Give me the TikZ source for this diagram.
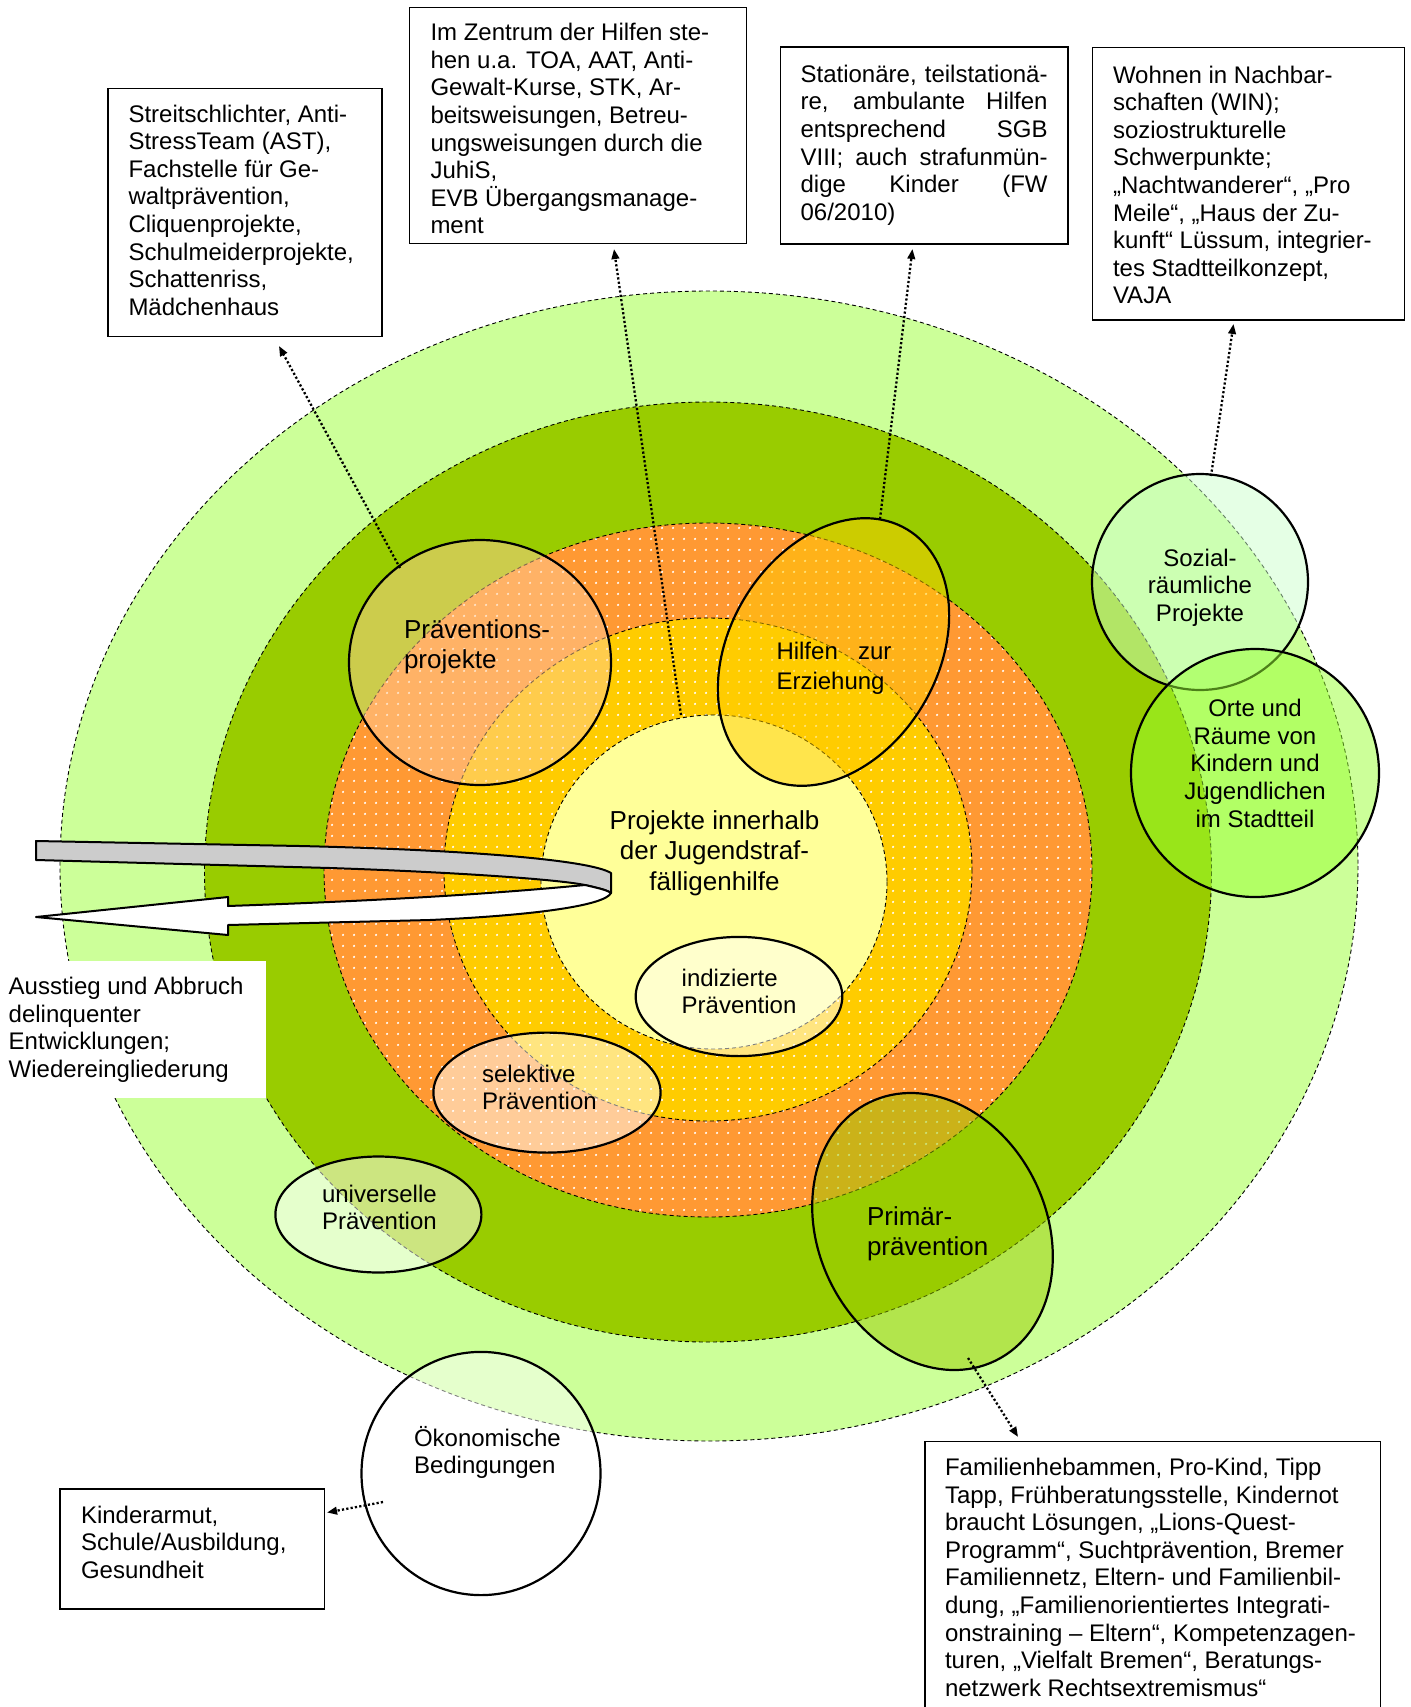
\documentclass[tikz,border=0pt]{standalone}
\usepackage{fontspec}
\setmainfont{Liberation Sans}
\usetikzlibrary{arrows.meta,patterns}
\definecolor{lgreen}{HTML}{CCFF99}
\definecolor{dgreen}{HTML}{99CC00}
\definecolor{orng}{HTML}{FF9933}
\definecolor{yell}{HTML}{FFCC00}
\definecolor{lyell}{HTML}{FFFF99}
\definecolor{tanfill}{HTML}{FFCC99}
\definecolor{mint}{HTML}{CCFFCC}
\definecolor{limefill}{HTML}{99FF33}
\definecolor{bandgray}{HTML}{CCCCCC}
\pgfdeclarepatternformonly{wdots}{\pgfqpoint{0pt}{0pt}}{\pgfqpoint{2pt}{2pt}}{\pgfqpoint{5.5pt}{5.5pt}}{%
  \pgfpathcircle{\pgfqpoint{1pt}{1pt}}{0.62pt}\pgfusepath{fill}}
\newcommand{\fstr}{\rule{0pt}{11pt}}
\newcommand{\bstr}{\rule{0pt}{12pt}}
\begin{document}
\begin{tikzpicture}[x=0.5pt,y=-0.5pt,
  ring/.style={draw=black, line width=0.45pt, dash pattern=on 2pt off 1.5pt},
  dotted ring/.style={preaction={fill=#1}, preaction={pattern=wdots, pattern color=white}, ring},
  ov/.style={draw=black, line width=1.1pt, fill opacity=0.5},
  band/.style={draw=black, line width=1pt, line join=round},
  box/.style={draw=black, line width=0.9pt, fill=white, inner sep=0pt, outer sep=0pt},
  lbl/.style={inner sep=0pt, outer sep=0pt, anchor=north west, align=left, font=\fontsize{12}{13.8}\selectfont},
  big/.style={font=\fontsize{13}{15.3}\selectfont},
  link/.style={line width=1.15pt, dash pattern=on 1.1pt off 1.1pt, -{Triangle[length=5pt,width=3.8pt]}}]
\useasboundingbox (0,0) rectangle (1410,1707);
\clip (0,0) rectangle (1410,1707);
% rings
\path[ring, fill=lgreen] (709,866) ellipse [x radius=649, y radius=575];
\path[ring, fill=dgreen] (708,872) ellipse [x radius=503.5, y radius=470];
\path[dotted ring=orng] (708,870) ellipse [x radius=384, y radius=347];
\path[dotted ring=yell] (708,869.5) ellipse [x radius=264, y radius=251.5];
\path[ring, fill=lyell] (714,882) ellipse [x radius=173, y radius=167];
% white patch behind the left text
\fill[white] (0,961) rectangle (266,1097.5);
% overlay ellipses
\path[ov, fill=tanfill] (480,662.5) ellipse [x radius=131, y radius=122.5];
\path[ov, fill=yell, rotate around={59:(833.5,652)}] (833.5,652) ellipse [x radius=143, y radius=104];
\path[ov, fill=mint] (1200,582) circle [radius=108];
\path[ov, fill=limefill] (1255,773) circle [radius=124];
\path[ov, fill=dgreen, rotate around={116:(932.5,1231.5)}] (932.5,1231.5) ellipse [x radius=143.7, y radius=114];
\path[ov, fill=white] (739,996.5) ellipse [x radius=103.3, y radius=59.6];
\path[ov, fill=white] (547,1092.6) ellipse [x radius=113.6, y radius=60];
\path[ov, fill=white] (378.4,1214.5) ellipse [x radius=103, y radius=58];
\path[ov, fill=white] (481,1473.5) ellipse [x radius=119.5, y radius=121.6];
% turning band arrow
\path[band, fill=bandgray] (36,841) -- (36,860) -- (330,868) .. controls (450,872) and (555,879) .. (585,885)
  .. controls (598,888) and (607,890) .. (611,893) -- (611,873)
  .. controls (590,860) and (470,850) .. (300,846) -- cycle;
\path[band, fill=white] (585,885) .. controls (500,893) and (400,900) .. (228,906) -- (228,897) -- (36,917)
  -- (228,935) -- (228,925) -- (430,920) .. controls (540,915) and (605,905) .. (611,893)
  .. controls (607,890) and (598,888) .. (585,885) -- cycle;
% labels in the circles
\node[lbl, big] (tPraev) at (404,614) {\bstr Präventions-\\projekte};
\node[lbl, font=\fontsize{12}{15}\selectfont] (tHilfen) at (776.5,637) {\fstr\makebox[57.5pt][s]{Hilfen zur}\\Erziehung};
\node[lbl, big, anchor=north, align=center] (tCore) at (714.5,805) {\bstr Projekte innerhalb\\der Jugendstraf-\\fälligenhilfe};
\node[lbl] (tInd) at (681.7,964) {\fstr indizierte\\Prävention};
\node[lbl] (tSel) at (482,1060) {\fstr selektive\\Prävention};
\node[lbl] (tUni) at (322,1180) {\fstr universelle\\Prävention};
\node[lbl, big] (tPrim) at (867,1201) {\bstr Primär-\\prävention};
\node[lbl, anchor=north, align=center] (tSoz) at (1200,544) {\fstr Sozial-\\räumliche\\Projekte};
\node[lbl, anchor=north, align=center] (tOrte) at (1255,694.7) {\fstr Orte und\\Räume von\\Kindern und\\Jugendlichen\\im Stadtteil};
\node[lbl] (tOek) at (414,1424) {\fstr Ökonomische\\Bedingungen};
\node[lbl] (tAus) at (8.7,972.4) {\fstr Ausstieg und Abbruch\\delinquenter\\Entwicklungen;\\Wiedereingliederung};
% boxes
\node[box, minimum width=137pt, minimum height=124pt] (boxA) at (245,212.5) {};
\node[box, minimum width=168.5pt, minimum height=118pt] (boxB) at (578,125.5) {};
\node[box, minimum width=143.75pt, minimum height=98.5pt] (boxC) at (924.25,145.5) {};
\node[box, minimum width=156pt, minimum height=136.25pt] (boxD) at (1248.5,183.75) {};
\node[box, minimum width=132.25pt, minimum height=60pt] (boxE) at (192.25,1549) {};
\node[box, minimum width=227.75pt, minimum height=139.25pt] (boxF) at (1152.75,1580.75) {};
\node[lbl] (tA) at (128.5,100) {\fstr Streitschlichter, Anti-\\StressTeam (AST),\\Fachstelle für Ge-\\waltprävention,\\Cliquenprojekte,\\Schulmeiderprojekte,\\Schattenriss,\\Mädchenhaus};
\node[lbl] (tB) at (430.5,18.7) {\fstr Im Zentrum der Hilfen ste-\\hen u.a. TOA, AAT, Anti-\\Gewalt-Kurse, STK, Ar-\\beitsweisungen, Betreu-\\ungsweisungen durch die\\JuhiS,\\EVB Übergangsmanage-\\ment};
\node[lbl] (tC) at (800.6,60.3) {\fstr\makebox[123.5pt][s]{Stationäre, teilstationä-}\\\makebox[123.5pt][s]{re, ambulante Hilfen}\\\makebox[123.5pt][s]{entsprechend SGB}\\\makebox[123.5pt][s]{VIII; auch strafunmün-}\\\makebox[123.5pt][s]{dige Kinder (FW}\\06/2010)};
\node[lbl] (tD) at (1113,61) {\fstr Wohnen in Nachbar-\\schaften (WIN);\\soziostrukturelle\\Schwerpunkte;\\„Nachtwanderer“, „Pro\\Meile“, „Haus der Zu-\\kunft“ Lüssum, integrier-\\tes Stadtteilkonzept,\\VAJA};
\node[lbl] (tE) at (81,1501) {\fstr Kinderarmut,\\Schule/Ausbildung,\\Gesundheit};
\node[lbl] (tF) at (945,1453.5) {\fstr Familienhebammen, Pro-Kind, Tipp\\Tapp, Frühberatungsstelle, Kindernot\\braucht Lösungen, „Lions-Quest-\\Programm“, Suchtprävention, Bremer\\Familiennetz, Eltern- und Familienbil-\\dung, „Familienorientiertes Integrati-\\onstraining – Eltern“, Kompetenzagen-\\turen, „Vielfalt Bremen“, Beratungs-\\netzwerk Rechtsextremismus“};
% connectors
\coordinate (s1) at (400,568);
\coordinate (s2) at (681,715);
\coordinate (s3) at (880,519);
\coordinate (s4) at (1211,476);
\coordinate (s5) at (968,1358);
\coordinate (s6) at (383,1502);
\draw[link, shorten >=5.4pt] (s1) -- ([xshift=14.4pt]boxA.south);
\draw[link, shorten >=2.8pt] (s2) -- ([xshift=17.6pt]boxB.south);
\draw[link, shorten >=2.5pt] (s3) -- ([xshift=-5.6pt]boxC.south);
\draw[link, shorten >=2pt] (s4) -- ([xshift=-7.2pt]boxD.south);
\draw[link, shorten >=2.7pt] (s5) -- ([xshift=-65.9pt]boxF.north);
\draw[link, shorten >=1.3pt] (s6) -- ([yshift=18pt]boxE.east);
\end{tikzpicture}
\end{document}
